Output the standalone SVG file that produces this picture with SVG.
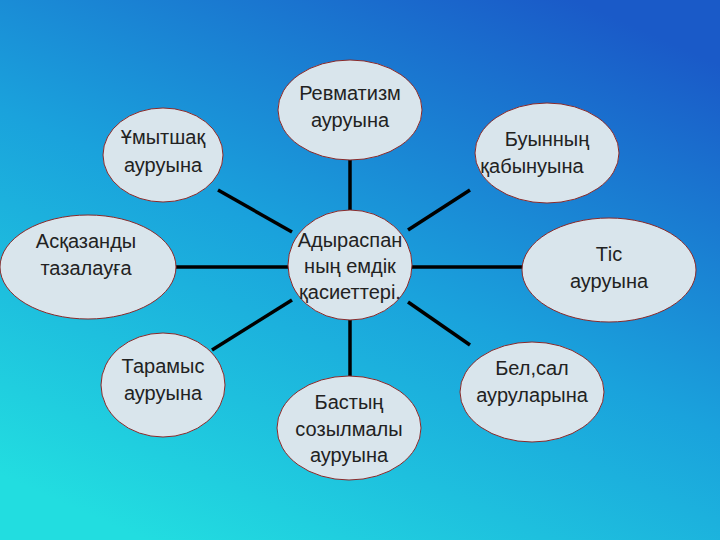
<svg xmlns="http://www.w3.org/2000/svg" width="720" height="540" viewBox="0 0 720 540">
<defs>
<linearGradient id="bg" x1="0.2" y1="1" x2="0.8" y2="0">
<stop offset="0" stop-color="#22dde0"/>
<stop offset="0.5" stop-color="#1aa2dc"/>
<stop offset="1" stop-color="#1a5ac8"/>
</linearGradient>
<style>
.n{fill:#d9e5ec;stroke:#8a2a2a;stroke-width:1}
.t{font-family:"Liberation Sans",Arial,sans-serif;font-size:20px;fill:#222;text-anchor:middle}
.c line{stroke:#000;stroke-width:3.5}
</style>
</defs>
<rect width="720" height="540" fill="url(#bg)"/>
<g class="c">
<line x1="218" y1="190" x2="292" y2="232"/>
<line x1="350" y1="158" x2="350" y2="212"/>
<line x1="470" y1="190" x2="408" y2="230"/>
<line x1="175" y1="267" x2="288" y2="267"/>
<line x1="412" y1="267" x2="523" y2="267"/>
<line x1="212" y1="350" x2="292" y2="300"/>
<line x1="350" y1="318" x2="350" y2="378"/>
<line x1="408" y1="302" x2="470" y2="345"/>
</g>
<g id="n1"><ellipse class="n" cx="163" cy="155" rx="60" ry="47"/><text class="t" x="163" y="144">Ұмытшақ</text><text class="t" x="163" y="172">ауруына</text></g>
<g id="n2"><ellipse class="n" cx="350" cy="110" rx="72" ry="50"/><text class="t" x="350" y="100">Ревматизм</text><text class="t" x="350" y="127">ауруына</text></g>
<g id="n3"><ellipse class="n" cx="547" cy="153" rx="72" ry="50"/><text class="t" x="547" y="146">Буынның</text><text class="t" x="532" y="173">қабынуына</text></g>
<g id="n4"><ellipse class="n" cx="88" cy="267" rx="88" ry="52"/><text class="t" x="86" y="248">Асқазанды</text><text class="t" x="86" y="275">тазалауға</text></g>
<g id="n5"><ellipse class="n" cx="350" cy="265" rx="62" ry="55"/><text class="t" x="350" y="247">Адыраспан</text><text class="t" x="350" y="273">ның емдік</text><text class="t" x="350" y="299">қасиеттері.</text></g>
<g id="n6"><ellipse class="n" cx="609" cy="270" rx="87" ry="52"/><text class="t" x="609" y="261">Тіс</text><text class="t" x="609" y="288">ауруына</text></g>
<g id="n7"><ellipse class="n" cx="163" cy="385" rx="62" ry="52"/><text class="t" x="163" y="373">Тарамыс</text><text class="t" x="163" y="400">ауруына</text></g>
<g id="n8"><ellipse class="n" cx="349" cy="428" rx="72" ry="52"/><text class="t" x="349" y="409">Бастың</text><text class="t" x="349" y="436">созылмалы</text><text class="t" x="349" y="462">ауруына</text></g>
<g id="n9"><ellipse class="n" cx="532" cy="392" rx="72" ry="50"/><text class="t" x="532" y="375">Бел,сал</text><text class="t" x="532" y="402">ауруларына</text></g>
</svg>
